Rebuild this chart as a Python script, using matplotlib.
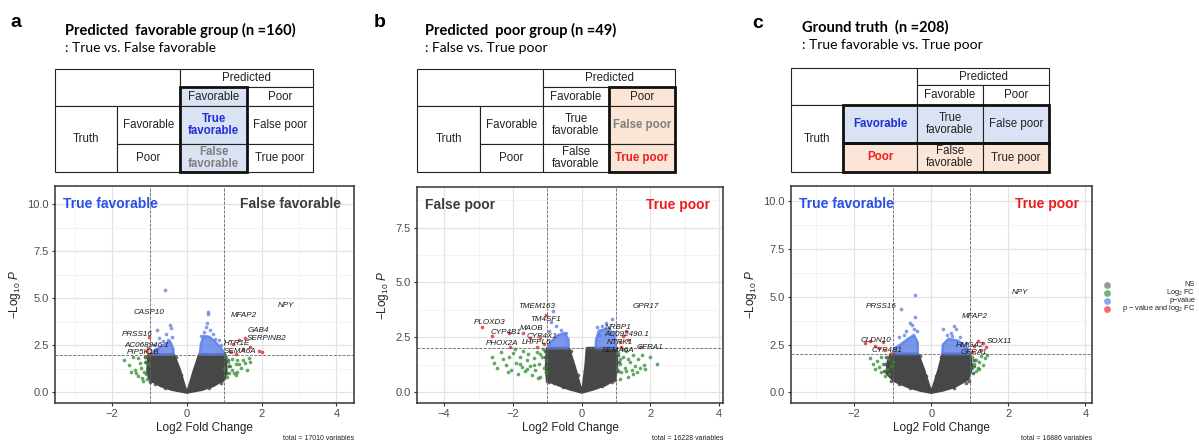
import numpy as np
import matplotlib
matplotlib.use("Agg")
import matplotlib.pyplot as plt
from matplotlib.patches import Rectangle, Polygon

plt.rcParams['font.family'] = ['Liberation Sans', 'DejaVu Sans']
plt.rcParams['mathtext.fontset'] = 'custom'
plt.rcParams['mathtext.rm'] = 'Liberation Sans'
plt.rcParams['mathtext.it'] = 'Liberation Sans:italic'

W, H = 1199, 443

# ---------------- data ----------------
panel_letters = ['a', 'b', 'c']
titles = ['Predicted  favorable group (n =160)', 'Predicted  poor group (n =49)', 'Ground truth  (n =208)']
subtitles = [': True vs. False favorable', ': False vs. True poor', ': True favorable vs. True poor']
totals = [17010, 16228, 16886]
corner_left = ['True favorable', 'False poor', 'True favorable']
corner_right = ['False favorable', 'True poor', 'True poor']

# panel a
a_ns_x = [-1.02, -0.36, -0.2, -0.05, 0, 0.05, 0.2, 0.34, 1.02, 1.05, 1.0, 0.7, 0.4, 0, -0.4, -0.7, -1.0, -1.05]
a_ns_y = [2.0, 2.0, 1.2, 0.2, 0.03, 0.2, 1.2, 2.0, 2.0, 1.2, 0.7, 0.35, 0.15, 0, 0.15, 0.35, 0.7, 1.2]
a_nsp_x = [-1.1, -1.08, -1.0, -0.85, -0.6, 1.1, 1.08, 0.9, 0.6, -0.3, 0.3, -0.15, 0.15, -1.12, 1.12, -0.95, 0.95]
a_nsp_y = [1.6, 1.0, 0.55, 0.45, 0.25, 1.7, 1.0, 0.5, 0.25, 1.9, 1.8, 0.9, 0.9, 1.9, 1.4, 0.6, 0.65]
a_bl_x = [-0.92, -0.36, -0.36, -0.45, -0.6, -0.8, -0.92]
a_bl_y = [2.0, 2.0, 2.3, 2.7, 2.55, 2.3, 2.15]
a_br_x = [0.34, 1.0, 0.95, 0.8, 0.6, 0.45, 0.38]
a_br_y = [2.0, 2.0, 2.25, 2.6, 2.95, 3.0, 2.6]
a_blue_x = [-0.58, -0.45, -0.42, -0.55, -0.8, -0.75, -0.65, -0.88, -0.5, -0.4, 0.57, 0.57, 0.55, 0.52, 0.62, 0.7, 0.85, 0.9, 0.45, 0.38, 0.75]
a_blue_y = [5.43, 3.55, 3.4, 3.1, 3.3, 2.9, 2.75, 2.5, 2.8, 2.95, 4.25, 4.15, 3.7, 3.45, 3.3, 3.1, 2.8, 2.5, 3.2, 3.0, 2.85]
a_green_x = [-1.68, -1.55, -1.4, -1.35, -1.3, -1.22, -1.2, -1.15, -1.1, -1.08, -1.05, -1.12, -1.25, -1.45, -1.3, -1.18, -1.5, -1.1,
             1.05, 1.1, 1.15, 1.2, 1.25, 1.3, 1.35, 1.4, 1.45, 1.5, 1.55, 1.6, 1.65, 1.7, 1.12, 1.08, 1.2, 1.3, 1.0, 1.35]
a_green_y = [1.7, 1.45, 1.2, 1.0, 0.85, 1.3, 0.75, 1.1, 0.95, 0.7, 1.5, 1.6, 1.55, 1.9, 1.8, 0.6, 1.1, 1.85,
             1.9, 1.6, 1.4, 1.2, 1.0, 0.9, 1.1, 1.5, 1.3, 1.7, 1.55, 1.2, 1.8, 1.6, 1.05, 0.8, 1.75, 1.5, 1.3, 1.7]
a_red_x = [-1.02, -1.05, -1.08, -0.98, 1.22, 1.38, 1.55, 1.7, 1.92, 2.02, 1.18, 1.32, 1.5]
a_red_y = [2.95, 2.35, 2.2, 2.05, 2.55, 2.8, 2.9, 2.4, 2.2, 2.15, 2.15, 2.05, 2.3]
a_genes = ['CASP10', 'PRSS16', 'AC068946.1', 'PIP5K1B', 'MFAP2', 'NPY', 'GAB4', 'SERPINB2', 'HTR1E', 'SEMA6A']
a_gene_x = [-1.02, -1.32, -1.08, -1.16, 1.51, 2.65, 1.91, 2.14, 1.34, 1.43]
a_gene_y = [4.25, 3.08, 2.5, 2.1, 4.1, 4.6, 3.26, 2.86, 2.6, 2.19]

# panel b
b_ns_x = [-1.0, -0.38, -0.2, -0.05, 0, 0.05, 0.12, 0.16, 1.0, 1.02, 0.97, 0.7, 0.35, 0, -0.35, -0.7, -1.0, -1.03]
b_ns_y = [2.0, 2.0, 1.1, 0.25, 0.05, 0.3, 1.2, 2.0, 2.0, 1.2, 0.6, 0.35, 0.15, 0, 0.15, 0.35, 0.55, 1.2]
b_nsp_x = [-1.06, -1.05, -0.95, -0.8, -0.55, 1.06, 1.05, 0.88, 0.6, -0.3, 0.25, -0.12, 0.1, -1.08, 1.08, -1.0, 0.98]
b_nsp_y = [1.6, 0.9, 0.45, 0.4, 0.22, 1.7, 0.95, 0.45, 0.28, 1.9, 1.85, 0.8, 0.95, 1.9, 1.4, 0.5, 0.55]
b_bl_x = [-1.0, -0.38, -0.38, -0.5, -0.7, -0.9]
b_bl_y = [2.0, 2.0, 2.4, 2.7, 2.6, 2.3]
b_br_x = [0.4, 1.0, 0.95, 0.75, 0.5, 0.42]
b_br_y = [2.0, 2.0, 2.6, 2.9, 2.8, 2.4]
b_blue_x = [-0.84, -0.9, -0.75, -0.6, -0.45, -0.95, 0.88, 0.45, 0.6, 0.7, 0.8, 0.95, 0.5]
b_blue_y = [3.7, 3.2, 3.0, 2.85, 2.7, 2.8, 3.34, 2.95, 3.0, 3.15, 2.9, 2.75, 2.6]
b_green_x = [-2.55, -2.45, -2.3, -2.2, -2.1, -2.05, -2.0, -1.9, -1.85, -1.8, -1.75, -1.7, -1.65, -1.6, -1.55, -1.5, -1.45, -1.4,
             -1.35, -1.3, -1.25, -1.2, -1.15, -1.1, -1.05, -1.05, -1.12, -1.28, -1.6, -1.95, -2.35, -2.6, -2.15, -1.4, -1.2, -1.8,
             1.05, 1.1, 1.15, 1.2, 1.25, 1.3, 1.35, 1.4, 1.45, 1.5, 1.55, 1.6, 1.65, 1.7, 1.8, 1.85, 2.0, 2.2, 1.1, 1.02,
             1.2, 1.35, 1.5, 1.75, 1.12, 1.28]
b_green_y = [1.35, 1.1, 1.5, 1.25, 1.6, 1.0, 1.8, 1.35, 0.85, 1.6, 1.15, 1.9, 0.95, 1.45, 1.75, 1.2, 0.8, 1.55,
             1.0, 1.85, 1.3, 0.7, 1.6, 1.1, 0.9, 1.45, 1.95, 0.65, 1.05, 1.95, 1.85, 1.6, 0.9, 1.25, 1.75, 1.3,
             1.8, 1.3, 0.9, 1.6, 1.1, 1.9, 0.7, 1.4, 1.0, 1.7, 1.2, 0.9, 1.5, 1.1, 1.25, 1.05, 1.6, 1.3, 0.6, 1.05,
             1.95, 1.5, 0.85, 1.7, 1.5, 0.95]
b_red_x = [-2.89, -2.62, -2.1, -2.08, -1.72, -1.5, -1.3, -1.04, -1.2, -1.1, 1.3, 1.2, 1.35, 1.69, 1.1, 1.15]
b_red_y = [2.99, 2.56, 2.72, 2.08, 2.69, 2.46, 2.05, 3.52, 2.5, 2.2, 2.8, 2.55, 2.4, 2.08, 2.3, 2.05]
b_genes = ['TMEM163', 'TM4SF1', 'PLOXD3', 'CYP4B1', 'MAOB', 'CYP4X1', 'PHOX2A', 'LHFPL6', 'GPR17', 'NRBP1', 'AC092490.1',
           'NTRK1', 'SEMA6A', 'GFRA1']
b_gene_x = [-1.32, -1.06, -2.68, -2.2, -1.45, -1.14, -2.32, -1.3, 1.86, 1.05, 1.3, 1.1, 1.05, 2.0]
b_gene_y = [3.92, 3.3, 3.17, 2.73, 2.9, 2.55, 2.2, 2.26, 3.9, 2.95, 2.62, 2.28, 1.92, 2.05]

# panel c
c_ns_x = [-1.05, -0.35, -0.2, -0.05, 0, 0.05, 0.2, 0.3, 1.0, 1.05, 0.95, 0.6, 0.3, 0, -0.3, -0.6, -0.95, -1.15, -1.12]
c_ns_y = [2.0, 2.0, 1.2, 0.25, 0.05, 0.25, 1.2, 2.0, 2.0, 1.3, 0.7, 0.3, 0.12, 0, 0.12, 0.3, 0.6, 1.0, 1.6]
c_nsp_x = [-1.2, -1.22, -1.05, -0.85, -0.55, 1.1, 1.08, 0.9, 0.6, -0.3, 0.25, -0.13, 0.13, -1.18, 1.12, -1.0, 0.98]
c_nsp_y = [1.5, 1.1, 0.6, 0.45, 0.22, 1.7, 1.0, 0.5, 0.24, 1.9, 1.85, 0.85, 0.85, 1.85, 1.4, 0.75, 0.6]
c_bl_x = [-0.95, -0.35, -0.35, -0.45, -0.6, -0.8, -0.95]
c_bl_y = [2.0, 2.0, 2.6, 3.0, 2.8, 2.5, 2.3]
c_br_x = [0.28, 1.0, 0.95, 0.7, 0.45, 0.3]
c_br_y = [2.0, 2.0, 2.3, 2.7, 2.8, 2.5]
c_blue_x = [-0.42, -0.78, -0.41, -0.5, -0.45, -0.65, -0.85, -0.7, -0.38, -0.55, 0.3, 0.6, 0.65, 0.4, 0.5, 0.75, 0.9, 0.55]
c_blue_y = [5.11, 4.35, 3.95, 3.5, 3.3, 3.2, 2.9, 3.0, 3.2, 3.6, 3.3, 3.48, 3.3, 3.0, 3.1, 2.9, 2.6, 2.95]
c_green_x = [-1.6, -1.5, -1.45, -1.4, -1.35, -1.3, -1.25, -1.2, -1.15, -1.1, -1.1, -1.05, -1.3, -1.0,
             1.05, 1.1, 1.15, 1.2, 1.25, 1.3, 1.35, 1.4, 1.45, 1.15, 1.25, 1.05]
c_green_y = [1.8, 1.5, 1.2, 1.65, 1.35, 1.05, 1.5, 0.85, 1.2, 1.75, 0.95, 1.4, 1.85, 1.6,
             1.85, 1.5, 1.7, 1.3, 1.6, 1.9, 1.45, 1.8, 1.95, 1.1, 1.2, 1.3]
c_red_x = [-1.73, -1.6, -1.45, -1.24, -1.19, -1.04, -1.35, 1.2, 1.33, 1.1, 1.3, 1.05, 1.42]
c_red_y = [2.56, 2.7, 2.43, 2.64, 2.21, 2.03, 2.3, 2.7, 2.6, 2.4, 2.2, 2.1, 2.35]
c_genes = ['PRSS16', 'CLDN10', 'CYP4B1', 'NPY', 'MFAP2', 'SOX11', 'HMGA2', 'GFRA1']
c_gene_x = [-1.31, -1.43, -1.15, 2.31, 1.12, 1.76, 1.01, 1.1]
c_gene_y = [4.5, 2.73, 2.19, 5.2, 3.98, 2.68, 2.45, 2.08]

legend_labels = ['NS', 'Log$_{2}$ FC', 'p\u2212value', 'p \u2212 value and log$_{2}$ FC']

# ---------------- styling ----------------
GREY, GREEN, BLUE, RED = '#474747', '#2f8f2f', '#5a7de6', '#e03a3a'
TXT_BLUE, TXT_RED, TXT_GREY = '#2a4fe6', '#ee1c1c', '#3d3d3d'
FILL_BLUE, FILL_PEACH = '#dae3f3', '#fbe5d6'

axes_px = [(55, 186, 354, 403), (417, 187, 723, 403), (791, 186, 1092, 403)]
xlims = [(-3.53, 4.47), (-4.79, 4.11), (-3.64, 4.17)]
ylims = [(-0.57, 10.96), (-0.49, 9.35), (-0.55, 10.77)]
xticks = [[-2, 0, 2, 4], [-4, -2, 0, 2, 4], [-2, 0, 2, 4]]
yticks = [[0, 2.5, 5, 7.5, 10], [0, 2.5, 5, 7.5], [0, 2.5, 5, 7.5, 10]]


def fig_rect(l, t, r, b):
    return [l / W, 1 - b / H, (r - l) / W, (b - t) / H]


fig = plt.figure(figsize=(W / 100, H / 100), dpi=100)

panels = [
    (a_ns_x, a_ns_y, a_nsp_x, a_nsp_y, [(a_bl_x, a_bl_y), (a_br_x, a_br_y)], a_blue_x, a_blue_y, a_green_x, a_green_y, a_red_x, a_red_y, a_genes, a_gene_x, a_gene_y),
    (b_ns_x, b_ns_y, b_nsp_x, b_nsp_y, [(b_bl_x, b_bl_y), (b_br_x, b_br_y)], b_blue_x, b_blue_y, b_green_x, b_green_y, b_red_x, b_red_y, b_genes, b_gene_x, b_gene_y),
    (c_ns_x, c_ns_y, c_nsp_x, c_nsp_y, [(c_bl_x, c_bl_y), (c_br_x, c_br_y)], c_blue_x, c_blue_y, c_green_x, c_green_y, c_red_x, c_red_y, c_genes, c_gene_x, c_gene_y),
]
left_cols = [TXT_BLUE, TXT_GREY, TXT_BLUE]
right_cols = [TXT_GREY, TXT_RED, TXT_RED]

for i, p in enumerate(panels):
    ns_x, ns_y, nsp_x, nsp_y, blue_polys, bx, by, gx, gy, rx, ry, genes, gxl, gyl = p
    ax = fig.add_axes(fig_rect(*axes_px[i]))
    ax.set_xlim(*xlims[i])
    ax.set_ylim(*ylims[i])
    ax.set_xticks(xticks[i])
    ax.set_yticks(yticks[i])
    ax.set_yticklabels(['%.1f' % v for v in yticks[i]])
    ax.set_xticks([-3, -1, 1, 3], minor=True)
    ax.set_yticks([1.25, 3.75, 6.25, 8.75], minor=True)
    ax.grid(True, which='major', color='#e3e3e3', lw=0.9)
    ax.grid(True, which='minor', color='#efefef', lw=0.5)
    ax.set_axisbelow(True)
    for s in ax.spines.values():
        s.set_color('#333333')
        s.set_linewidth(1.1)
    ax.tick_params(which='both', length=2.5, color='#333333', labelsize=8, labelcolor='#4d4d4d', pad=2)
    ax.tick_params(which='minor', length=0)
    ax.set_xlabel('Log2 Fold Change', fontsize=8.5, color='#222222', labelpad=2)
    ax.set_ylabel(r'$-\mathrm{Log}_{10}\ \mathit{P}$', fontsize=8.5, color='#222222', labelpad=3)

    ax.add_patch(Polygon(np.column_stack([ns_x, ns_y]), closed=True, fc=GREY, ec=GREY, lw=2.2, joinstyle='round', zorder=2))
    ax.scatter(nsp_x, nsp_y, s=7, c=GREY, alpha=0.8, lw=0, zorder=2)
    for px_, py_ in blue_polys:
        ax.add_patch(Polygon(np.column_stack([px_, py_]), closed=True, fc=BLUE, ec=BLUE, lw=1.8, alpha=0.8,
                             joinstyle='round', zorder=2))
    ax.scatter(gx, gy, s=7, c=GREEN, alpha=0.75, lw=0, zorder=3)
    ax.scatter(bx, by, s=7, c=BLUE, alpha=0.75, lw=0, zorder=3)
    ax.scatter(rx, ry, s=7, c=RED, alpha=0.85, lw=0, zorder=4)
    ax.axvline(-1, ls='--', color='#666666', lw=0.6, zorder=5)
    ax.axvline(1, ls='--', color='#666666', lw=0.6, zorder=5)
    ax.axhline(2, ls='--', color='#666666', lw=0.6, zorder=5)
    for g, x, y in zip(genes, gxl, gyl):
        ax.text(x, y, g, fontsize=5.8, style='italic', color='#1a1a1a', ha='center', va='center', zorder=6)

    ax.text(0.027, 0.915, corner_left[i], transform=ax.transAxes, fontsize=10, fontweight='bold',
            color=left_cols[i], ha='left', va='center')
    ax.text(0.957, 0.915, corner_right[i], transform=ax.transAxes, fontsize=10, fontweight='bold',
            color=right_cols[i], ha='right', va='center')

# ---------------- overlay: titles, tables, captions, legend ----------------
ov = fig.add_axes([0, 0, 1, 1])
ov.set_xlim(0, W)
ov.set_ylim(H, 0)
ov.axis('off')

letter_pos = [(16, 22), (380, 22), (758, 23)]
title_pos = [(65, 30), (425, 30), (802, 27)]
for i in range(3):
    ov.text(*letter_pos[i], panel_letters[i], fontsize=14, fontweight='bold', ha='center', va='center')
    tx, ty = title_pos[i]
    ov.text(tx, ty, titles[i], fontsize=10.5, fontweight='bold', family=['Lato', 'DejaVu Sans'], ha='left', va='center')
    ov.text(tx, ty + 18, subtitles[i], fontsize=10, family=['Lato', 'DejaVu Sans'], ha='left', va='center')
    ax_r = axes_px[i][2]
    ov.text(ax_r, 438, 'total = %d variables' % totals[i], fontsize=5, ha='right', va='center', color='#222222')

col_edges = [[55, 117, 180, 247, 313], [417, 480, 543, 609, 675], [791, 843, 917, 983, 1049]]
row_edges = [[69, 87, 106, 144, 172], [69, 87, 106, 144, 172], [68, 85, 105, 143, 172]]
# cell: (c0, c1, r0, r1, key, text)
cells = [
    (0, 2, 0, 2, 'corner', ''),
    (2, 4, 0, 1, 'pred', 'Predicted'),
    (2, 3, 1, 2, 'pfav', 'Favorable'),
    (3, 4, 1, 2, 'ppoor', 'Poor'),
    (0, 1, 2, 4, 'truth', 'Truth'),
    (1, 2, 2, 3, 'tfav', 'Favorable'),
    (1, 2, 3, 4, 'tpoor', 'Poor'),
    (2, 3, 2, 3, 'tf', 'True\nfavorable'),
    (3, 4, 2, 3, 'fp', 'False poor'),
    (2, 3, 3, 4, 'ff', 'False\nfavorable'),
    (3, 4, 3, 4, 'tp', 'True poor'),
]
fills = [
    {'pfav': FILL_BLUE, 'tf': FILL_BLUE, 'ff': FILL_BLUE},
    {'ppoor': FILL_PEACH, 'fp': FILL_PEACH, 'tp': FILL_PEACH},
    {'tfav': FILL_BLUE, 'tf': FILL_BLUE, 'fp': FILL_BLUE, 'tpoor': FILL_PEACH, 'ff': FILL_PEACH, 'tp': FILL_PEACH},
]
text_styles = [
    {'tf': '#1f2fd8', 'ff': '#7f7f7f'},
    {'fp': '#7f7f7f', 'tp': TXT_RED},
    {'tfav': '#1f2fd8', 'tpoor': TXT_RED},
]
# thick boxes: (c0, c1, r0, r1)
boxes = [[(2, 3, 1, 4)], [(3, 4, 1, 4)], [(1, 4, 2, 3), (1, 4, 3, 4)]]

for i in range(3):
    ce, re_ = col_edges[i], row_edges[i]
    for c0, c1, r0, r1, key, txt in cells:
        x0, x1, y0, y1 = ce[c0], ce[c1], re_[r0], re_[r1]
        ov.add_patch(Rectangle((x0, y0), x1 - x0, y1 - y0, fc=fills[i].get(key, 'white'), ec='#222222', lw=0.8))
        if txt:
            col = text_styles[i].get(key)
            ov.text((x0 + x1) / 2, (y0 + y1) / 2, txt, fontsize=8.3, ha='center', va='center', linespacing=1.0,
                    color=col if col else '#222222', fontweight='bold' if col else 'normal')
    for c0, c1, r0, r1 in boxes[i]:
        x0, x1, y0, y1 = ce[c0], ce[c1], re_[r0], re_[r1]
        ov.add_patch(Rectangle((x0, y0), x1 - x0, y1 - y0, fc='none', ec='#111111', lw=2.0, zorder=5))

leg_colors = ['#9a9a9a', '#6fb86f', '#8ea6ec', '#ef6f6f']
leg_y = [285, 293, 301, 309]
for lab, col, y in zip(legend_labels, leg_colors, leg_y):
    ov.scatter([1107], [y], s=24, c=col, lw=0)
    ov.text(1195, y, lab, fontsize=5.3, ha='right', va='center', color='#222222')

fig.savefig('out.png', dpi=100)
